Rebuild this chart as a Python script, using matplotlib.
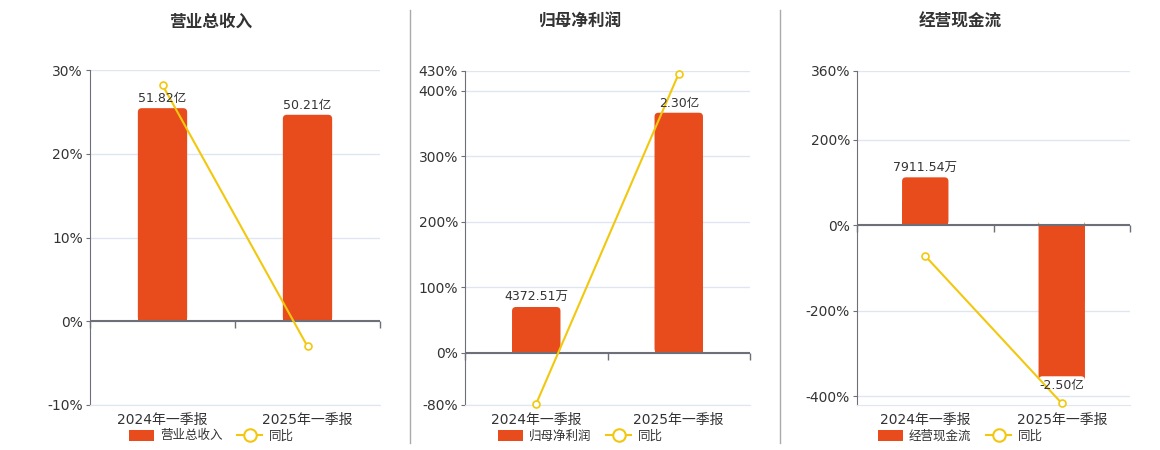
import numpy as np
import matplotlib
matplotlib.use('Agg')
import matplotlib.pyplot as plt
from matplotlib.lines import Line2D
from matplotlib.patches import Patch, FancyBboxPatch, Rectangle
from matplotlib.markers import TICKDOWN

plt.rcParams['font.family'] = ['DejaVu Sans', 'Noto Sans CJK SC']

# data
periods = ['2024年一季报', '2025年一季报']
titles = ['营业总收入', '归母净利润', '经营现金流']

revenue = [51.82, 50.21]            # 亿
revenue_labels = ['51.82亿', '50.21亿']
revenue_yoy = [28.2, -3.0]

profit = [4372.51, 23000.0]         # 万
profit_labels = ['4372.51万', '2.30亿']
profit_yoy = [-77.9, 426.0]

cashflow = [7911.54, -25000.0]      # 万
cashflow_labels = ['7911.54万', '-2.50亿']
cashflow_yoy = [-72.0, -416.0]

yoy_ticks_1 = [-10, 0, 10, 20, 30]
yoy_ticks_2 = [-80, 0, 100, 200, 300, 400, 430]
yoy_ticks_3 = [-400, -200, 0, 200, 360]

BAR = '#E84C1D'
LINE = '#F2C80F'
AXIS = '#6E7079'
GRID = '#E0E6F1'
TXT = '#333333'

W, H = 1160, 450


def px(l, r, t, b):
    return [l / W, 1 - b / H, (r - l) / W, (b - t) / H]


fig = plt.figure(figsize=(11.6, 4.5), dpi=100)

panels = [
    (titles[0], revenue, revenue_labels, revenue_yoy, yoy_ticks_1, (-10, 30), 61.1, px(90, 380, 70, 405), 211),
    (titles[1], profit, profit_labels, profit_yoy, yoy_ticks_2, (-80, 430), 27000, px(465, 750, 71, 405), 580),
    (titles[2], cashflow, cashflow_labels, cashflow_yoy, yoy_ticks_3, (-420, 360), 25500, px(857, 1130, 71, 405), 960),
]

x = np.arange(len(periods))
edges = np.arange(len(periods) + 1) - 0.5

for title, vals, lbls, yoy, ticks, ylim, bar_top, rect, cx in panels:
    ax = fig.add_axes(rect)
    ax.set_xlim(-0.5, len(periods) - 0.5)
    ax.set_ylim(*ylim)
    ax.set_yticks(ticks, [f'{t}%' for t in ticks])
    ax.yaxis.grid(True, color=GRID, lw=1)
    ax.set_axisbelow(True)
    for s in ['top', 'right']:
        ax.spines[s].set_visible(False)
    ax.spines['left'].set_color(AXIS)
    ax.spines['bottom'].set_color(GRID)
    ax.tick_params(axis='y', length=3, color=AXIS, labelsize=10, labelcolor=TXT, pad=2)
    ax.set_xticks(x, periods)
    ax.tick_params(axis='x', length=0, labelsize=10, labelcolor=TXT, pad=6)

    # bars on a hidden twin axis with zero aligned
    zf = -ylim[0] / (ylim[1] - ylim[0])
    ax2 = ax.twinx()
    ax2.set_ylim(-bar_top * zf / (1 - zf), bar_top)
    ax2.axis('off')
    bars = ax2.bar(x, vals, width=0.34, color=BAR)
    ax2.bar_label(bars, labels=lbls, padding=2, fontsize=9, color=TXT)

    # rounded ends like the echarts bars
    x_per_px = (ax.get_xlim()[1] - ax.get_xlim()[0]) / (rect[2] * W)
    y0, y1 = ax2.get_ylim()
    y_per_px = (y1 - y0) / (rect[3] * H)
    r = 4 * x_per_px
    for b in bars:
        b.set_visible(False)
        bx, bw, bh = b.get_x(), b.get_width(), b.get_height()
        ax2.add_patch(FancyBboxPatch((bx, 0), bw, bh, boxstyle=f'round,pad=0,rounding_size={r}',
                                     mutation_aspect=y_per_px / x_per_px, fc=BAR, ec='none'))
        ax2.add_patch(Rectangle((bx, 0), bw, bh / 2, fc=BAR, ec='none'))

    ax2.axhline(0, color=AXIS, lw=1.5)
    ax2.plot(edges, np.zeros_like(edges), ls='none', marker=TICKDOWN, ms=5, mew=1,
             color=AXIS, transform=ax.transData, clip_on=False)
    ax2.plot(x, yoy, color=LINE, lw=1.5, marker='o', ms=5, mfc='white', mew=1.2,
             transform=ax.transData, clip_on=False)

    fig.text(cx / W, 1 - 22 / H, title, ha='center', va='center', fontsize=12,
             fontweight='bold', color=TXT)
    handles = [Patch(facecolor=BAR),
               Line2D([], [], color=LINE, marker='o', ms=9, mfc='white', mew=1.5, lw=1.5)]
    fig.legend(handles, [title, '同比'], loc='center', bbox_to_anchor=(cx / W, 1 - 436 / H),
               ncol=2, frameon=False, fontsize=9, handlelength=2, handleheight=1.0,
               columnspacing=1.2, handletextpad=0.5, labelcolor=TXT)

for sx in [410, 780]:
    fig.add_artist(Line2D([sx / W, sx / W], [1 - 10 / H, 1 - 443 / H], color='#AAAAAA', lw=1))

fig.savefig('out.png', dpi=100)
